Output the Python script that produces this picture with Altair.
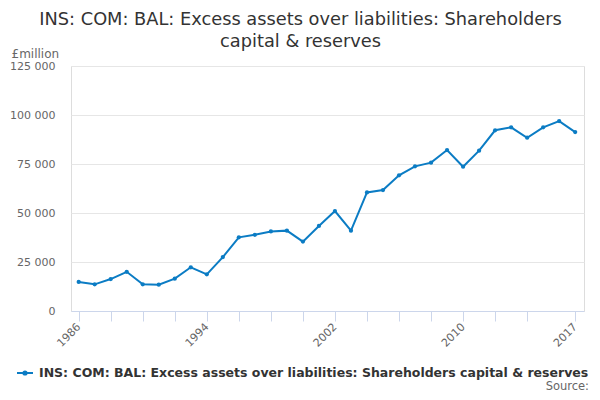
import altair as alt
import pandas as pd

years = list(range(1986, 2018))
values = [14800, 13600, 16300, 20000, 13600, 13400, 16500, 22300, 18700, 27500,
          37600, 38900, 40600, 41000, 35400, 43400, 51000, 41000, 60500, 61700,
          69200, 73800, 75700, 82100, 73600, 81800, 92200, 93700, 88400, 93700,
          96900, 91300]
series_name = "INS: COM: BAL: Excess assets over liabilities: Shareholders capital & reserves"
x_ticks = [1986, 1988, 1990, 1992, 1994, 1996, 1998, 2000, 2002, 2004, 2006,
           2008, 2010, 2012, 2014, 2017]
x_labels = [1986, 1994, 2002, 2010, 2017]
y_ticks = [0, 25000, 50000, 75000, 100000, 125000]
source_text = "Source:"

df = pd.DataFrame({"year": years, "value": values, "series": series_name})

FONT = "DejaVu Sans"
BLUE = "#0b7cc4"

label_test = " || ".join(f"datum.value == {v}" for v in x_labels)

base = alt.Chart(df).encode(
    x=alt.X("year:Q",
            scale=alt.Scale(domain=[1985.52, 2017.55], nice=False, zero=False),
            axis=alt.Axis(values=x_ticks, title=None, grid=False,
                          labelExpr=f"({label_test}) ? toString(datum.value) : ''",
                          labelAngle=315, labelAlign="right", labelBaseline="middle",
                          labelFont=FONT, labelFontSize=11, labelColor="#666666",
                          labelPadding=4, labelOverlap=False,
                          tickColor="#ccd6eb", tickSize=10, domainColor="#ccd6eb",
                          labelFlush=False)),
    y=alt.Y("value:Q",
            scale=alt.Scale(domain=[0, 125000], nice=False),
            axis=alt.Axis(values=y_ticks, title="£million", titleAngle=0,
                          titleAlign="left", titleBaseline="middle",
                          titleX=-60, titleY=-13, titleFont=FONT, titleFontSize=12,
                          titleFontWeight="normal", titleColor="#666666",
                          labelExpr="replace(format(datum.value, ','), ',', ' ')",
                          labelFont=FONT, labelFontSize=11, labelColor="#666666",
                          labelPadding=16, ticks=False, domain=False,
                          gridColor="#e6e6e6", gridWidth=1)),
)

legend_symbol = "M-1,0L1,0M-0.2,0a0.2,0.2 0 1,0 0.4,0a0.2,0.2 0 1,0 -0.4,0"

line = base.mark_line(strokeWidth=2, clip=False).encode(
    color=alt.Color("series:N",
                    scale=alt.Scale(range=[BLUE]),
                    legend=alt.Legend(title=None, orient="none", legendX=-55, legendY=298,
                                      symbolType=legend_symbol, symbolStrokeWidth=2,
                                      symbolSize=256, symbolFillColor=BLUE,
                                      labelOffset=5,
                                      labelFont=FONT, labelFontSize=12.5,
                                      labelFontWeight="bold", labelColor="#333333",
                                      labelLimit=700))
)
pts = base.mark_point(filled=True, size=18, opacity=1, color=BLUE, clip=False)

source = alt.Chart(pd.DataFrame({"t": [source_text]})).mark_text(
    font=FONT, fontSize=11.5, fontWeight="normal", color="#666666",
    align="right", baseline="middle").encode(
    x=alt.value(518), y=alt.value(321), text="t:N"
)

chart = alt.layer(line, pts, source).properties(
    width=513, height=245,
    padding={"left": 63, "top": 58, "right": 8, "bottom": 81},
    autosize=alt.AutoSizeParams(type="none"),
    title=alt.Title(["INS: COM: BAL: Excess assets over liabilities: Shareholders",
                     "capital & reserves"],
                    font=FONT, fontSize=17.8, fontWeight="normal", color="#333333",
                    anchor="middle", dx=-27, dy=18, lineHeight=22, offset=14),
).configure_view(stroke=None).configure(background="white")

chart.save("out.html", embed_options={"renderer": "svg", "actions": False})
